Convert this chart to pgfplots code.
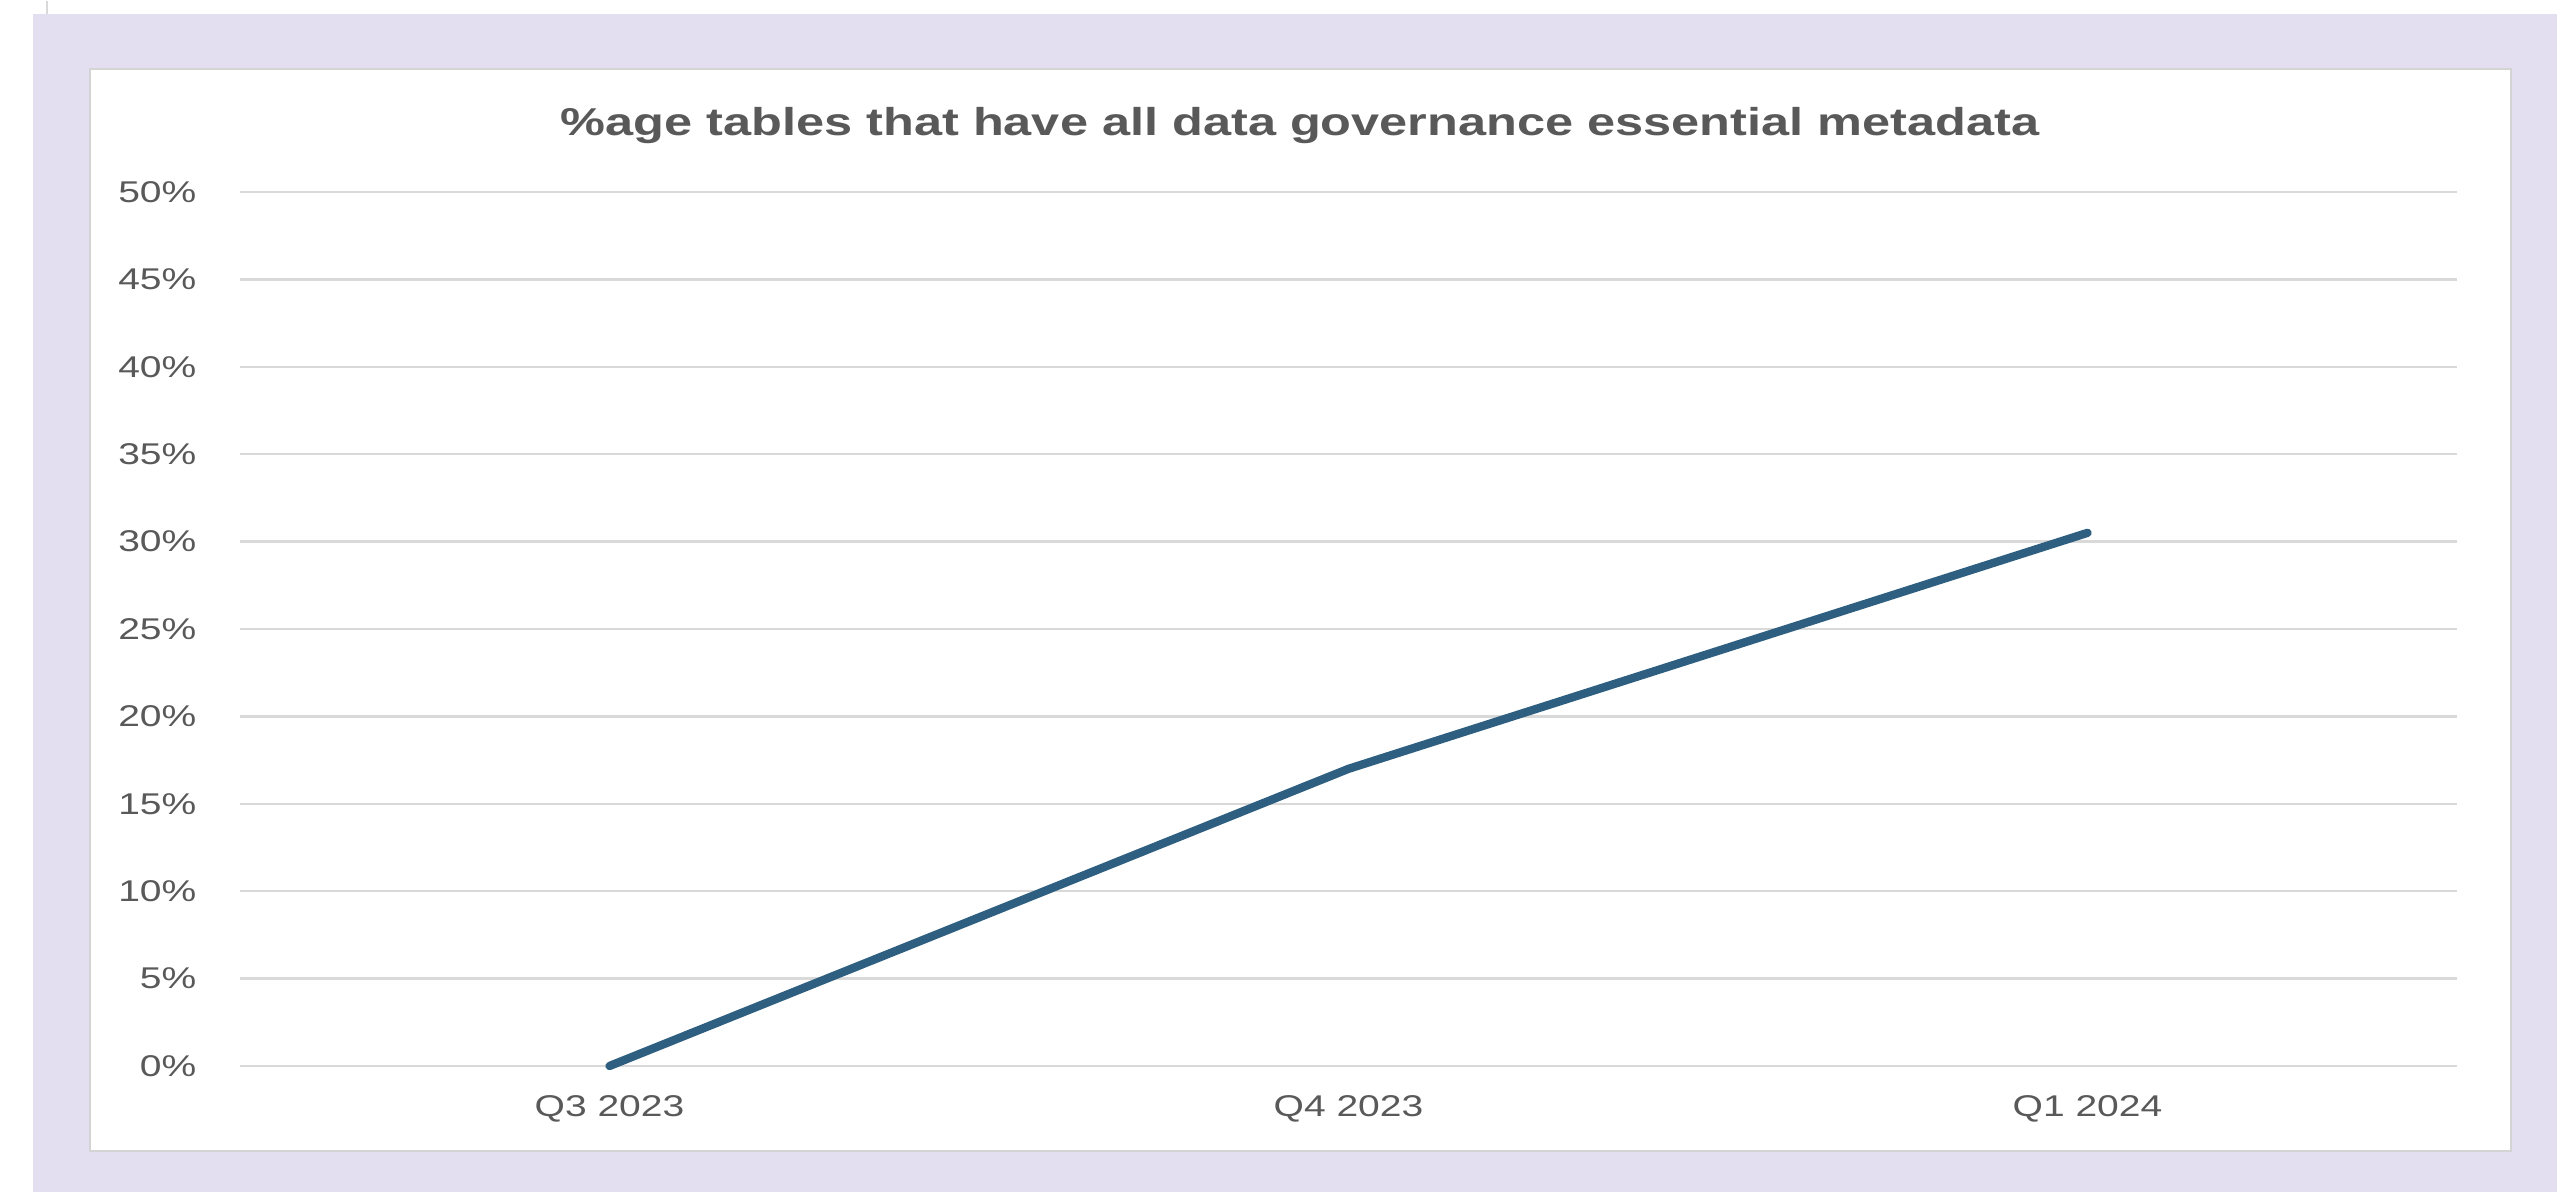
\documentclass[border=0pt]{standalone}
\usepackage{fontspec}
\setmainfont{Liberation Sans}[FakeStretch=1.3]
\usepackage{pgfplots}
\pgfplotsset{compat=1.18}
\definecolor{lav}{RGB}{228,223,240}
\definecolor{txtgray}{RGB}{89,89,89}
\definecolor{gridgray}{RGB}{217,217,217}
\definecolor{panelborder}{RGB}{212,212,212}
\definecolor{linecol}{RGB}{46,95,128}
\begin{document}
\begin{tikzpicture}
\path[fill=white] (0,0) rectangle (767.1pt,357.3pt);
\fill[lav] (9.9pt,0) rectangle (767.1pt,353.4pt);
\draw[panelborder, line width=0.6pt, fill=white] (27pt,12.3pt) rectangle (753.3pt,336.9pt);
\draw[gridgray, line width=0.6pt] (14.1pt,353.4pt) -- (14.1pt,357.3pt);
\node[anchor=base, text=txtgray, inner sep=0pt, font=\fontsize{11.65}{13}\selectfont\bfseries] at (390pt,316.8pt) {\%age tables that have all data governance essential metadata};
\begin{axis}[
  at={(72pt,37.8pt)}, anchor=south west,
  scale only axis, width=665.1pt, height=262.2pt,
  xmin=-0.5, xmax=2.5, ymin=0, ymax=50,
  xtick={0,1,2}, xticklabels={Q3 2023,Q4 2023,Q1 2024},
  ytick={0,5,...,50},
  yticklabel={\pgfmathprintnumber{\tick}\%},
  /pgf/number format/assume math mode=true,
  axis line style={draw=none},
  major tick length=0pt,
  tick style={draw=none},
  ymajorgrids, xmajorgrids=false,
  major grid style={gridgray, line width=0.75pt},
  ticklabel style={text=txtgray, font=\fontsize{9}{11}\selectfont},
  xticklabel style={anchor=base, yshift=-15.3pt},
  yticklabel style={anchor=east, inner sep=0pt, xshift=-12.9pt},
  clip=false,
]
\addplot[linecol, line width=2.5pt, line cap=round, line join=round] coordinates {(0,0) (1,17) (2,30.5)};
\end{axis}
\end{tikzpicture}
\end{document}
